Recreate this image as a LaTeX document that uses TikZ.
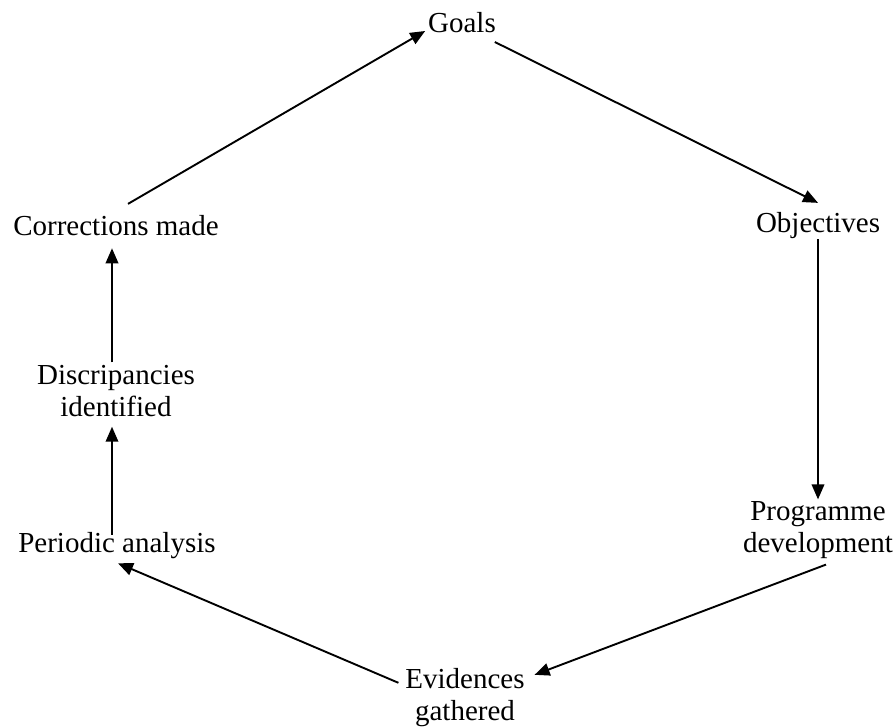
\documentclass[tikz,border=0pt]{standalone}
\usepackage{fontspec}
\setmainfont{Liberation Serif}
\usetikzlibrary{arrows.meta}
\begin{document}
\begin{tikzpicture}[x=1pt,y=-1pt,
  lbl/.style={inner sep=0pt, outer sep=0pt, align=center,
              font=\fontsize{29}{32}\selectfont},
  flow/.style={line width=1.9pt, -{Triangle[length=15pt,width=12.5pt]}}]
% canvas
\fill[white] (0,0) rectangle (896,727);
\useasboundingbox (0,0) rectangle (896,727);

% stages of the cycle
\node[lbl, anchor=base] (goals) at (462,33)  {Goals};
\node[lbl, anchor=base] (obj)   at (818,233) {Objectives};
\node[lbl]              (prog)  at (818,530) {Programme\\development};
\node[lbl]              (evid)  at (465,698) {Evidences\\gathered};
\node[lbl, anchor=base] (per)   at (117,552) {Periodic analysis};
\node[lbl]              (disc)  at (116,391) {Discripancies\\identified};
\node[lbl, anchor=base] (corr)  at (116,236) {Corrections made};

% connectors
\draw[flow] ([shift={(12,-12)}]corr.north) -- ([shift={(-3,-2)}]goals.base west);
\draw[flow] ([shift={(-1,9)}]goals.base east) -- ([shift={(0,-10)}]obj.north);
\draw[flow] (obj.south) -- ([shift={(0,-2)}]prog.north);
\draw[flow] ([shift={(8,6)}]prog.south) -- ([shift={(10,6)}]evid.north east);
\draw[flow] ([shift={(-7,14)}]evid.north west) -- ([shift={(1,5)}]per.south);
\draw[flow] ([shift={(-5,3)}]per.north) -- ([shift={(-4,10)}]disc.south);
\draw[flow] ([shift={(-4,-3)}]disc.north) -- ([shift={(-4,12)}]corr.south);
\end{tikzpicture}
\end{document}
